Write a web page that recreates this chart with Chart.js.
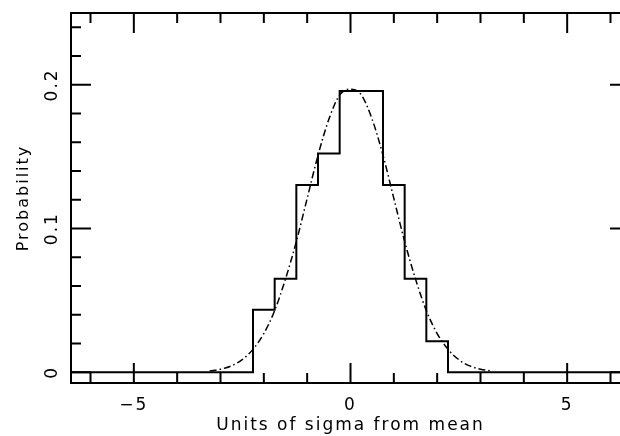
<!DOCTYPE html>
<html>
<head>
<meta charset="utf-8">
<script src="https://cdn.jsdelivr.net/npm/chart.js@4"></script>
<style>
  html, body { margin: 0; padding: 0; background: #fff; overflow: hidden; }
  /* the frame's right edge falls just outside the 620px picture, as in the original */
  #wrap { width: 631px; height: 436px; }
</style>
</head>
<body>
<div id="wrap"><canvas id="histChart"></canvas></div>
<script>
// histogram: bin edges (units of sigma) and probability in each bin
const binEdges = [-2.25, -1.75, -1.25, -0.75, -0.25, 0.25, 0.75, 1.25, 1.75, 2.25];
const binProb = [0.0435, 0.0652, 0.1304, 0.1522, 0.1957, 0.1957, 0.1304, 0.0652, 0.0217];

// dash-dot curve
const curveX = [-3.25, -3, -2.75, -2.5, -2.25, -2, -1.75, -1.5, -1.25, -1, -0.75, -0.5, -0.25, 0,
                0.25, 0.5, 0.75, 1, 1.25, 1.5, 1.75, 2, 2.25, 2.5, 2.75, 3, 3.25];
const curveY = [0.001, 0.0022, 0.0045, 0.0088, 0.016, 0.027, 0.043, 0.065, 0.091, 0.121, 0.151, 0.176, 0.193, 0.197,
                0.193, 0.176, 0.151, 0.121, 0.091, 0.065, 0.043, 0.027, 0.016, 0.0088, 0.0045, 0.0022, 0.001];

// tick labels
const xTicks = [-5, 0, 5];
const yTicks = [0, 0.1, 0.2];

const xMin = -6.45, xMax = 6.45;
const yMin = -0.0074, yMax = 0.25;

// stepped outline: zero line out to the axis edges on both sides
const histPoints = [{ x: xMin, y: 0 }];
binProb.forEach((p, i) => histPoints.push({ x: binEdges[i], y: p }));
histPoints.push({ x: binEdges[binEdges.length - 1], y: 0 });
histPoints.push({ x: xMax, y: 0 });

const curvePoints = curveX.map((x, i) => ({ x: x, y: curveY[i] }));

const fontFamily = '"DejaVu Sans", sans-serif';

// box frame with inward ticks on all four sides (PGPLOT style)
const frameTicks = {
    id: 'frameTicks',
    beforeDraw(chart) {
        chart.ctx.letterSpacing = '2px';
    },
    afterDraw(chart) {
        const { ctx, chartArea: a, scales: { x, y } } = chart;
        ctx.save();
        ctx.strokeStyle = '#000';
        ctx.lineWidth = 2;
        ctx.strokeRect(a.left, a.top, a.right - a.left, a.bottom - a.top);
        ctx.beginPath();
        for (let v = -6; v <= 6; v++) {
            const px = x.getPixelForValue(v);
            const len = xTicks.includes(v) ? 20 : 10;
            ctx.moveTo(px, a.bottom); ctx.lineTo(px, a.bottom - len);
            ctx.moveTo(px, a.top); ctx.lineTo(px, a.top + len);
        }
        for (let i = 0; i <= 12; i++) {
            const py = y.getPixelForValue(i * 0.02);
            const len = i % 5 === 0 ? 20 : 10;
            ctx.moveTo(a.left, py); ctx.lineTo(a.left + len, py);
            ctx.moveTo(a.right, py); ctx.lineTo(a.right - len, py);
        }
        ctx.stroke();
        ctx.restore();
    }
};

const histChart = new Chart(document.getElementById('histChart'), {
    type: 'line',
    data: {
        datasets: [{
            label: 'Histogram',
            data: histPoints,
            stepped: 'before',
            borderColor: '#000',
            borderWidth: 2,
            pointRadius: 0,
            fill: false
        }, {
            label: 'Gaussian',
            data: curvePoints,
            borderColor: '#000',
            borderWidth: 1.5,
            borderDash: [7, 3, 1.5, 3],
            cubicInterpolationMode: 'monotone',
            pointRadius: 0,
            fill: false
        }]
    },
    options: {
        responsive: true,
        maintainAspectRatio: false,
        animation: false,
        layout: { padding: { top: 13, right: 1, left: 0, bottom: 0 } },
        plugins: {
            legend: { display: false },
            tooltip: { enabled: false }
        },
        scales: {
            x: {
                type: 'linear',
                min: xMin,
                max: xMax,
                grid: { display: false },
                border: { display: false },
                afterBuildTicks: (scale) => { scale.ticks = xTicks.map(v => ({ value: v })); },
                afterFit: (scale) => { scale.height = 53; },
                ticks: {
                    color: '#000',
                    padding: 4,
                    maxRotation: 0,
                    font: { family: fontFamily, size: 17 },
                    callback: (v) => v < 0 ? '\u2212' + Math.abs(v) : String(v)
                },
                title: {
                    display: true,
                    text: 'Units of sigma from mean',
                    color: '#000',
                    padding: { top: 0, bottom: 0 },
                    font: { family: fontFamily, size: 17 }
                }
            },
            y: {
                type: 'linear',
                min: yMin,
                max: yMax,
                grid: { display: false },
                border: { display: false },
                afterBuildTicks: (scale) => { scale.ticks = yTicks.map(v => ({ value: v })); },
                afterFit: (scale) => { scale.width = 71; },
                ticks: {
                    color: '#000',
                    padding: -3,
                    minRotation: 90,
                    maxRotation: 90,
                    crossAlign: 'center',
                    font: { family: fontFamily, size: 17 },
                    callback: (v) => String(v)
                },
                title: {
                    display: true,
                    text: 'Probability',
                    color: '#000',
                    padding: { top: 14, bottom: 0 },
                    font: { family: fontFamily, size: 16 }
                }
            }
        }
    },
    plugins: [frameTicks]
});
</script>
</body>
</html>
